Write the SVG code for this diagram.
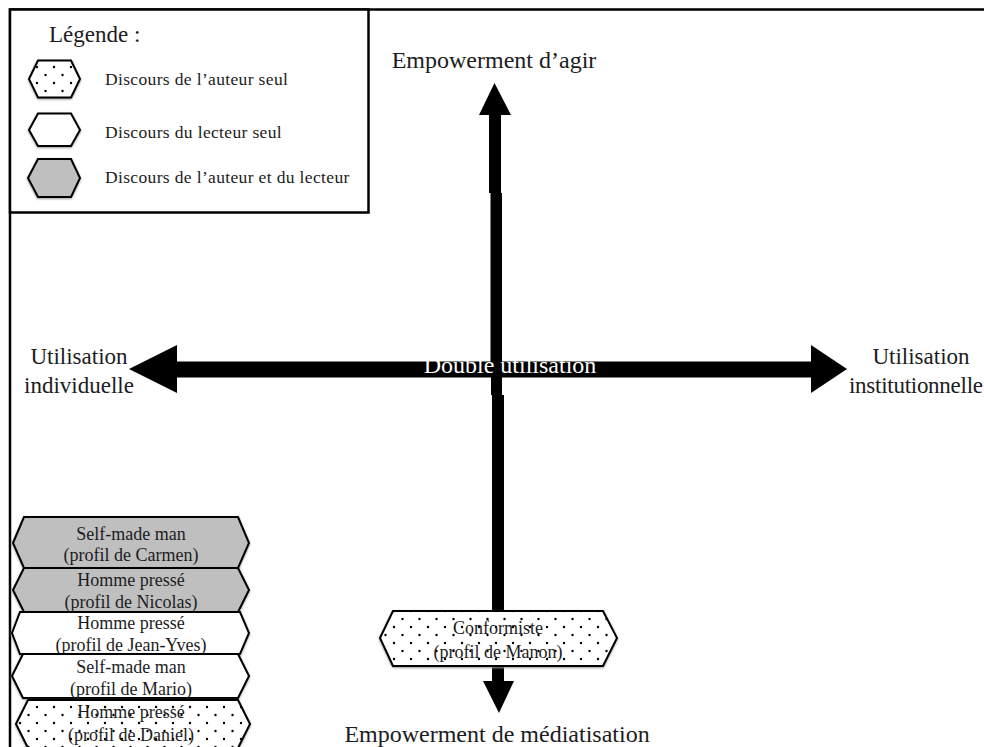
<svg xmlns="http://www.w3.org/2000/svg" width="984" height="747" viewBox="0 0 984 747">
<style>
text{font-family:"Liberation Serif","Times New Roman",serif;fill:#1c1c22;text-anchor:middle}
.axis{font-size:24px}
.side{font-size:23px}
.box{font-size:18px}
.leg{font-size:17.500px;text-anchor:start;letter-spacing:.35px}
.hex{stroke:#000;stroke-width:2;stroke-linejoin:miter;filter:drop-shadow(0 1.5px 1px #999)}
.grey{fill:#bfbfbf}.white{fill:#fff}.dots{fill:url(#dots)}
.arrow{fill:#000}
</style>
<defs>
<pattern id="dots" width="17" height="16" patternUnits="userSpaceOnUse">
<rect width="17" height="16" fill="#fff"/>
<circle cx="3" cy="3" r="1.2" fill="#000"/><circle cx="11.500" cy="11" r="1.2" fill="#000"/>
</pattern>
</defs>
<rect width="984" height="747" fill="#fff"/>
<path d="M10 747V9.500H984" fill="none" stroke="#000" stroke-width="2.500"/>
<g id="connectors">
<path class="arrow" d="M129 369L177 345V361.500H811V345L847 369L811 393V377.500H177V393Z"/>
<path class="arrow" d="M494.500 83L511 115H501V193H502V362H490.500V193H489V115H479Z"/>
<path class="arrow" d="M491 377V395H492V681H483L499 713L514 681H504V395H502V377Z"/>
</g>
<g id="legend">
<rect x="10" y="9.500" width="358.500" height="203" fill="#fff" stroke="#000" stroke-width="2.500"/>
<text x="49" y="42" style="font-size:23px;text-anchor:start">Légende :</text>
<polygon class="hex dots" points="29,79 38,60.500 71,60.500 80,79 71,97.500 38,97.500"/>
<text class="leg" x="105" y="85">Discours de l’auteur seul</text>
<polygon class="hex white" points="29,130 38,113.500 71,113.500 80,130 71,146 38,146"/>
<text class="leg" x="105" y="138">Discours du lecteur seul</text>
<polygon class="hex grey" points="28,178 38,159 71,159 80,178 71,197 38,197"/>
<text class="leg" x="105" y="183">Discours de l’auteur et du lecteur</text>
</g>
<g id="label-agir"><text class="axis" x="494" y="68">Empowerment d’agir</text></g>
<g id="label-mediatisation"><text class="axis" x="497" y="742">Empowerment de médiatisation</text></g>
<g id="label-individuelle"><text class="side" x="79" y="364">Utilisation</text><text class="side" x="79" y="393">individuelle</text></g>
<g id="label-institutionnelle"><text class="side" x="921" y="364">Utilisation</text><text class="side" x="849" y="393" style="text-anchor:start" textLength="134">institutionnelle</text></g>
<g id="label-double"><text class="axis" x="510" y="373" style="fill:#fff">Double utilisation</text></g>
<g id="node-carmen">
<polygon class="hex grey" points="13,543 24,517 238,517 249,543 238,568 24,568"/>
<text class="box" x="131" y="540">Self-made man</text><text class="box" x="131" y="561">(profil de Carmen)</text>
</g>
<g id="node-nicolas">
<polygon class="hex grey" points="13,590 24,568 238,568 249,590 238,612 24,612"/>
<text class="box" x="131" y="586">Homme pressé</text><text class="box" x="131" y="608">(profil de Nicolas)</text>
</g>
<g id="node-jeanyves">
<polygon class="hex white" points="12,633 20,612 240,612 249,633 240,654 20,654"/>
<text class="box" x="131" y="629">Homme pressé</text><text class="box" x="131" y="651">(profil de Jean-Yves)</text>
</g>
<g id="node-mario">
<polygon class="hex white" points="12,676 23,654 238,654 249,676 238,698 23,698"/>
<text class="box" x="131" y="673">Self-made man</text><text class="box" x="131" y="695">(profil de Mario)</text>
</g>
<g id="node-daniel">
<polygon class="hex dots" points="16,724 28,700 238,700 250,724 238,748 28,748"/>
<text class="box" x="131" y="718">Homme pressé</text><text class="box" x="131" y="741">(profil de Daniel)</text>
</g>
<g id="node-manon">
<polygon class="hex dots" points="380,638 393,611 603,611 617,638 603,666 393,666"/>
<text class="box" x="498" y="634">Conformiste</text><text class="box" x="498" y="658">(profil de Manon)</text>
</g>
</svg>
